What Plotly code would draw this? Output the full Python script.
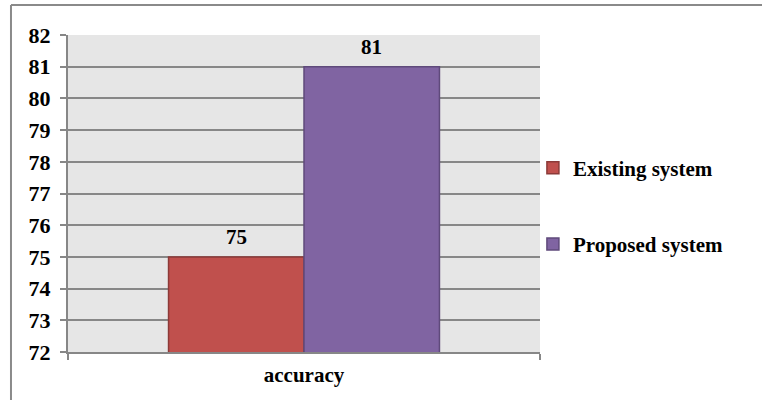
import plotly.graph_objects as go

# Accuracy comparison data
categories = ["accuracy"]
series_names = ["Existing system", "Proposed system"]
existing_values = [75]
proposed_values = [81]
y_tick_values = list(range(72, 83))

series_values = [existing_values, proposed_values]
fill_colors = ["#C0504D", "#8064A2"]
edge_colors = ["#8C3A38", "#5F4A7B"]

FONT = "'Liberation Serif', 'Times New Roman', serif"
GRID = "#878787"
bold = lambda size: dict(family=FONT, size=size, color="black", weight="bold")

fig = go.Figure()
for i, (name, vals) in enumerate(zip(series_names, series_values)):
    fig.add_trace(go.Bar(
        x=categories,
        y=vals,
        name=name,
        legendgroup=name,
        marker=dict(color=fill_colors[i], line=dict(color=edge_colors[i], width=1.5)),
    ))

# Value labels above each bar
bar_px = 472 * (1 - 0.426) / 2
for i, vals in enumerate(series_values):
    for cat, v in zip(categories, vals):
        fig.add_annotation(
            x=cat, y=v, xref="x", yref="y",
            text=str(v), showarrow=False,
            xshift=(i - 0.5) * bar_px, yshift=20,
            font=bold(21),
        )

# Outer chart frame (top and left edges)
fig.add_shape(type="line", xref="paper", yref="paper",
              x0=-0.1208, x1=1.5, y0=1.0946, y1=1.0946,
              line=dict(color="#8A8A8A", width=2))
fig.add_shape(type="line", xref="paper", yref="paper",
              x0=-0.1208, x1=-0.1208, y0=1.0946, y1=-0.2,
              line=dict(color="#8A8A8A", width=2))

fig.update_layout(
    width=762, height=400,
    margin=dict(l=68, r=222, t=35, b=48),
    paper_bgcolor="white",
    plot_bgcolor="#E6E6E6",
    barmode="group",
    bargap=0.426,
    bargroupgap=0,
    showlegend=True,
    legend=dict(
        x=0.985, xanchor="left", y=0.645, yanchor="top",
        font=bold(21),
        tracegroupgap=46,
        itemwidth=30,
        bgcolor="rgba(0,0,0,0)",
    ),
    font=dict(family=FONT, size=20, color="black"),
)

fig.update_yaxes(
    range=[72, 82],
    tickvals=y_tick_values,
    ticks="outside", ticklen=6, tickcolor=GRID, tickwidth=2,
    showgrid=True, gridcolor=GRID, gridwidth=2,
    showline=True, linecolor=GRID, linewidth=2,
    tickfont=bold(22),
    ticklabelstandoff=5,
    zeroline=False,
)
fig.update_xaxes(
    tickvals=categories,
    ticks="outside", tickson="boundaries", ticklen=6, tickcolor=GRID, tickwidth=2,
    showline=True, linecolor=GRID, linewidth=2,
    showgrid=False,
    tickfont=bold(21),
    ticklabelstandoff=3,
)

fig.write_html("out.html")
